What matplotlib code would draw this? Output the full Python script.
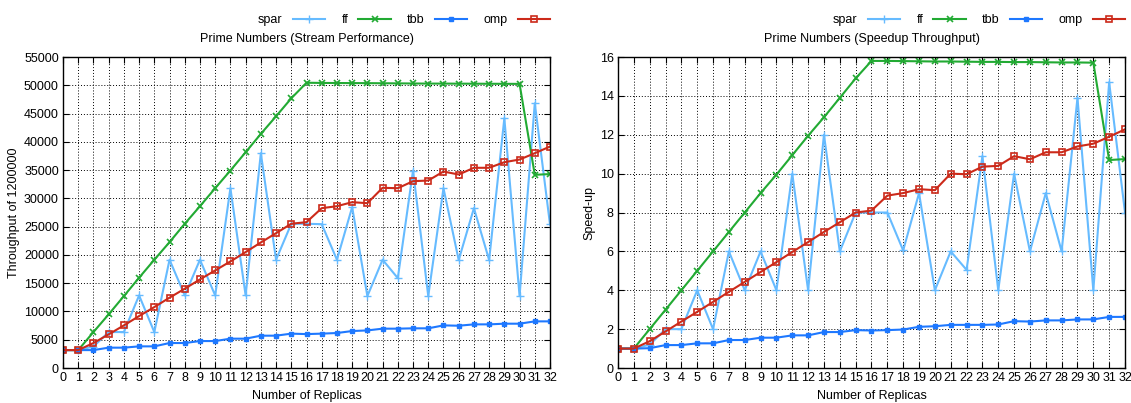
import matplotlib

matplotlib.use("Agg")
import matplotlib.pyplot as plt  # noqa: E402

plt.rcParams["font.family"] = ["Liberation Sans", "DejaVu Sans"]
plt.rcParams["font.size"] = 9

replicas = list(range(33))

# throughput (left panel)
spar_tp = [3170, 3170, 3800, 6360, 6360, 12840, 6360, 19150, 12840, 19150, 12840,
           31800, 12840, 37990, 19150, 25510, 25510, 25440, 19150, 28450, 12720,
           19150, 15900, 34930, 12720, 31800, 19100, 28270, 19100, 44170, 12720,
           46820, 25390]
ff_tp = [3170, 3170, 6360, 9490, 12720, 15970, 19150, 22260, 25510, 28620, 31800,
         34930, 38160, 41410, 44520, 47700, 50450, 50420, 50400, 50390, 50380,
         50360, 50340, 50320, 50300, 50300, 50290, 50280, 50270, 50260, 50250,
         34170, 34300]
tbb_tp = [3170, 3170, 3170, 3600, 3600, 3830, 3830, 4420, 4420, 4770, 4770, 5190,
          5190, 5720, 5720, 6080, 6000, 6080, 6190, 6540, 6650, 6960, 6960, 7020,
          7020, 7540, 7480, 7720, 7720, 7840, 7840, 8250, 8250]
omp_tp = [3170, 3170, 4420, 5950, 7540, 9190, 10780, 12440, 14030, 15670, 17260,
          18850, 20500, 22210, 23850, 25510, 25800, 28270, 28620, 29330, 29150,
          31870, 31800, 33040, 33160, 34750, 34220, 35410, 35410, 36400, 36870,
          37990, 39170]

# speedup (right panel)
spar_su = [1.0, 1.0, 1.2, 2.0, 2.0, 4.0, 2.0, 6.0, 4.0, 6.0, 4.0, 10.0, 4.0, 12.0,
           6.0, 8.0, 8.0, 8.0, 6.05, 9.0, 4.0, 6.0, 5.05, 10.9, 4.0, 10.0, 6.0,
           9.0, 6.0, 13.9, 4.0, 14.7, 8.0]
ff_su = [1.0, 1.0, 2.0, 3.0, 4.0, 5.0, 6.0, 7.0, 8.0, 9.0, 9.95, 10.95, 11.95,
         12.9, 13.9, 14.9, 15.8, 15.8, 15.79, 15.78, 15.77, 15.77, 15.76, 15.75,
         15.75, 15.74, 15.74, 15.73, 15.72, 15.72, 15.71, 10.7, 10.75]
tbb_su = [1.0, 1.0, 1.02, 1.18, 1.18, 1.27, 1.27, 1.44, 1.44, 1.56, 1.56, 1.68,
          1.68, 1.85, 1.85, 1.95, 1.93, 1.95, 1.98, 2.12, 2.15, 2.22, 2.22, 2.22,
          2.24, 2.41, 2.39, 2.45, 2.45, 2.5, 2.5, 2.63, 2.63]
omp_su = [1.0, 1.0, 1.38, 1.88, 2.39, 2.89, 3.4, 3.92, 4.43, 4.94, 5.45, 5.97,
          6.48, 7.0, 7.5, 8.0, 8.1, 8.87, 9.0, 9.2, 9.15, 10.0, 9.97, 10.36, 10.4,
          10.9, 10.74, 11.1, 11.1, 11.4, 11.54, 11.9, 12.28]

STYLE = {
    "spar": dict(color="#66bbff", marker="+", ms=6, mew=1.0),
    "ff": dict(color="#22aa33", marker="x", ms=4.5, mew=1.2),
    "tbb": dict(color="#1e78ff", marker="s", ms=3.5, mew=1.0),
    "omp": dict(color="#cc2a1a", marker="s", ms=5, mew=1.2, mfc="none"),
}


def panel(fig, rect, series, title, ylabel, ylim, yticks):
    ax = fig.add_axes(rect)
    for name, vals in series:
        ax.plot(replicas, vals, lw=1.5, label=name, **STYLE[name])
    ax.set_xlim(0, 32)
    ax.set_ylim(*ylim)
    ax.set_xticks(replicas)
    ax.set_yticks(yticks)
    ax.grid(True, color="black", linestyle=(0, (1, 2)), lw=0.7)
    ax.tick_params(direction="in", top=True, right=True, length=4, pad=3)
    ax.set_xlabel("Number of Replicas", labelpad=4)
    ax.set_ylabel(ylabel, labelpad=3)
    ax.set_title(title, pad=11, fontsize=9)
    for s in ax.spines.values():
        s.set_linewidth(1.0)
    ax.legend(loc="lower right", bbox_to_anchor=(1.0, 1.10), ncol=4, frameon=False,
              markerfirst=False, handlelength=2.6, columnspacing=1.3,
              handletextpad=0.8, borderaxespad=0, borderpad=0)
    return ax


fig = plt.figure(figsize=(11.31, 4.03), dpi=100)

panel(fig, [0.0557, 0.0868, 0.4306, 0.7717],
      [("spar", spar_tp), ("ff", ff_tp), ("tbb", tbb_tp), ("omp", omp_tp)],
      "Prime Numbers (Stream Performance)", "Throughput of 1200000",
      (0, 55000), list(range(0, 55001, 5000)))

panel(fig, [0.5464, 0.0868, 0.4483, 0.7717],
      [("spar", spar_su), ("ff", ff_su), ("tbb", tbb_su), ("omp", omp_su)],
      "Prime Numbers (Speedup Throughput)", "Speed-up",
      (0, 16), list(range(0, 17, 2)))

fig.savefig("out.png", dpi=100)
